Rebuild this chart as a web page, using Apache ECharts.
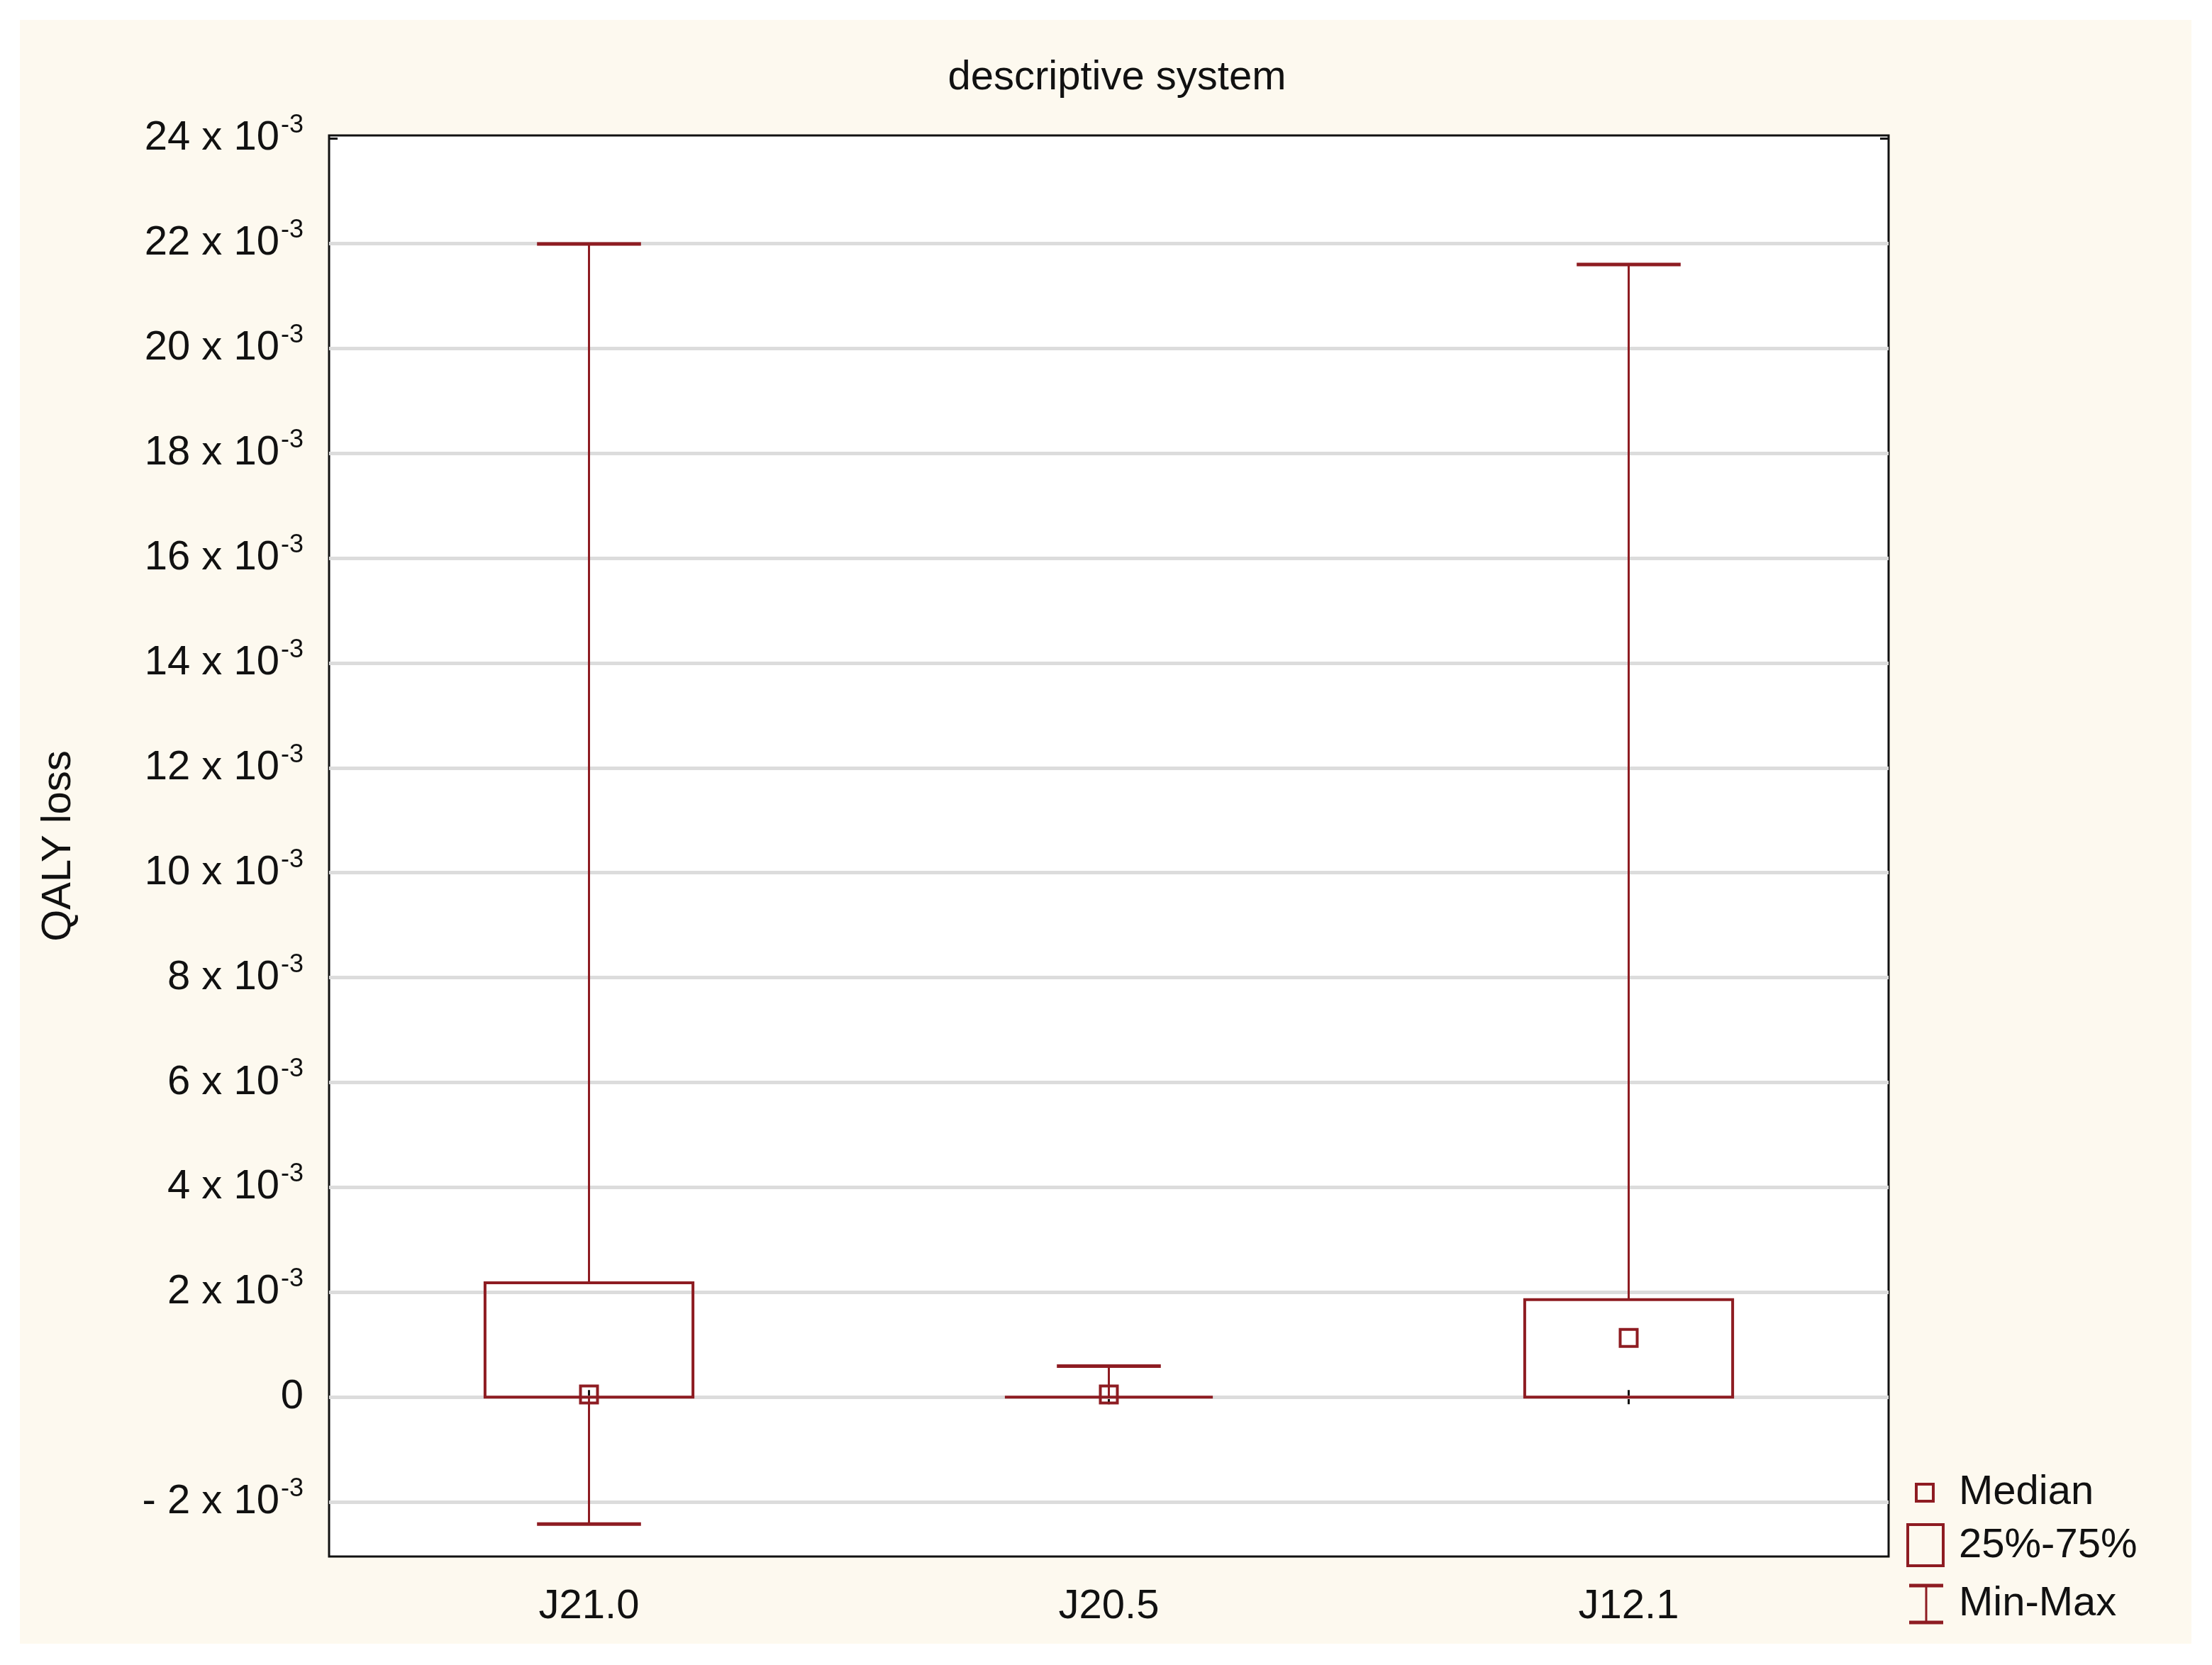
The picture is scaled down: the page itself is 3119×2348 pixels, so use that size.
<!DOCTYPE html>
<html>
<head>
<meta charset="utf-8">
<script src="https://cdn.jsdelivr.net/npm/echarts@6/dist/echarts.min.js"></script>
<style>
html,body{margin:0;padding:0;background:#fff;}
#wrap{position:absolute;left:28px;top:28px;width:3062px;height:2290px;background:#fdf9ef;}
#main{width:3119px;height:2348px;position:absolute;left:0;top:0;}
</style>
</head>
<body>
<div id="wrap"></div>
<div id="main"></div>
<script>
// values in units of 1e-3
var categories = ['J21.0', 'J20.5', 'J12.1'];
var minVals = [-2.42, 0, 0];
var q1Vals = [0, 0, 0];
var medianVals = [0.05, 0.05, 1.13];
var q3Vals = [2.18, 0, 1.86];
var maxVals = [21.99, 0.59, 21.6];
var yTicks = [-2, 0, 2, 4, 6, 8, 10, 12, 14, 16, 18, 20, 22, 24];

var red = '#8e1c22';
var font = 'Liberation Sans';
var chart = echarts.init(document.getElementById('main'));

var boxData = categories.map(function (c, i) {
    return [i, minVals[i], q1Vals[i], medianVals[i], q3Vals[i], maxVals[i]];
});

function renderBox(params, api) {
    var i = api.value(0);
    var c = api.coord([i, 0])[0];
    var band = api.size([1, 0])[0];
    var bw = band * 0.4, cw = band * 0.2;
    var yMin = api.coord([i, api.value(1)])[1];
    var yQ1 = api.coord([i, api.value(2)])[1];
    var yMed = api.coord([i, api.value(3)])[1];
    var yQ3 = api.coord([i, api.value(4)])[1];
    var yMax = api.coord([i, api.value(5)])[1];
    var st = {stroke: red, lineWidth: 3, fill: null};
    var kids = [
        {type: 'line', shape: {x1: c, y1: yMax, x2: c, y2: yQ3}, style: st},
        {type: 'line', shape: {x1: c, y1: yQ1, x2: c, y2: yMin}, style: st},
        {type: 'line', shape: {x1: c - cw / 2, y1: yMax, x2: c + cw / 2, y2: yMax}, style: {stroke: red, lineWidth: 5}},
        {type: 'rect', shape: {x: c - bw / 2, y: yQ3, width: bw, height: yQ1 - yQ3}, style: {stroke: red, lineWidth: 4, fill: null}},
        {type: 'rect', shape: {x: c - 12, y: yMed - 12, width: 24, height: 24}, style: {stroke: red, lineWidth: 4, fill: 'rgba(255,255,255,0.01)'}}
    ];
    if (yMin !== yQ1) {
        kids.push({type: 'line', shape: {x1: c - cw / 2, y1: yMin, x2: c + cw / 2, y2: yMin}, style: {stroke: red, lineWidth: 5}});
    }
    return {type: 'group', children: kids};
}

function labelFmt(v) {
    if (v === 0) return '{n|0}';
    return '{n|' + (v < 0 ? '- ' + (-v) : v) + ' x 10}{s|-3}';
}

var gridLines = yTicks.filter(function (v) { return v !== 24; }).map(function (v) { return {yAxis: v}; });

chart.setOption({
    animation: false,
    title: {
        text: 'descriptive system', left: 1570, top: 76, textAlign: 'center',
        textStyle: {fontFamily: font, fontSize: 58, fontWeight: 'normal', color: '#111'}
    },
    grid: {left: 464, right: 456, top: 191, bottom: 153, show: true, borderColor: '#111', borderWidth: 3, backgroundColor: '#fff'},
    xAxis: [{
        type: 'category', data: categories,
        axisLine: {show: false}, axisTick: {show: true, inside: true, alignWithLabel: true, length: 10, lineStyle: {color: '#111', width: 3}},
        axisLabel: {fontFamily: font, fontSize: 58, color: '#111', margin: 42}
    }, {
        type: 'category', data: categories, position: 'top',
        axisLine: {show: false}, axisTick: {show: true, inside: true, alignWithLabel: true, length: 10, lineStyle: {color: '#111', width: 3}},
        axisLabel: {show: false}
    }],
    yAxis: [{
        type: 'value', min: -3.04, max: 24.06,
        name: 'QALY loss', nameLocation: 'middle', nameGap: 352, nameRotate: 90,
        nameTextStyle: {fontFamily: font, fontSize: 58, color: '#111'},
        axisLine: {show: false}, splitLine: {show: false},
        axisTick: {show: true, inside: true, length: 12, customValues: yTicks, lineStyle: {color: '#111', width: 3}},
        axisLabel: {
            customValues: yTicks, margin: 36, formatter: labelFmt,
            rich: {
                n: {fontFamily: font, fontSize: 58, color: '#111'},
                s: {fontFamily: font, fontSize: 36, color: '#111', verticalAlign: 'top', padding: [0, 0, 36, 2]}
            }
        }
    }, {
        type: 'value', min: -3.04, max: 24.06, position: 'right',
        axisLine: {show: false}, splitLine: {show: false}, axisLabel: {show: false},
        axisTick: {show: true, inside: true, length: 12, customValues: yTicks, lineStyle: {color: '#111', width: 3}}
    }],
    series: [{
        type: 'custom', renderItem: renderBox, data: boxData, z: 3,
        encode: {x: 0, y: [1, 2, 3, 4, 5]},
        markLine: {
            silent: true, symbol: 'none', label: {show: false}, z: 1,
            lineStyle: {color: '#dcdcdc', width: 5, type: 'solid'},
            data: gridLines
        }
    }],
    graphic: [
        {type: 'rect', shape: {x: 2702, y: 2093, width: 24, height: 24}, style: {stroke: red, lineWidth: 4, fill: null}},
        {type: 'text', x: 2762, y: 2105, style: {text: 'Median', fontFamily: font, fontSize: 58, fill: '#111', verticalAlign: 'middle'}},
        {type: 'rect', shape: {x: 2690, y: 2150, width: 50, height: 58}, style: {stroke: red, lineWidth: 4, fill: null}},
        {type: 'text', x: 2762, y: 2180, style: {text: '25%-75%', fontFamily: font, fontSize: 58, fill: '#111', verticalAlign: 'middle'}},
        {type: 'line', shape: {x1: 2692, y1: 2236, x2: 2740, y2: 2236}, style: {stroke: red, lineWidth: 5}},
        {type: 'line', shape: {x1: 2716, y1: 2236, x2: 2716, y2: 2288}, style: {stroke: red, lineWidth: 3}},
        {type: 'line', shape: {x1: 2692, y1: 2288, x2: 2740, y2: 2288}, style: {stroke: red, lineWidth: 5}},
        {type: 'text', x: 2762, y: 2262, style: {text: 'Min-Max', fontFamily: font, fontSize: 58, fill: '#111', verticalAlign: 'middle'}}
    ]
});
</script>
</body>
</html>
